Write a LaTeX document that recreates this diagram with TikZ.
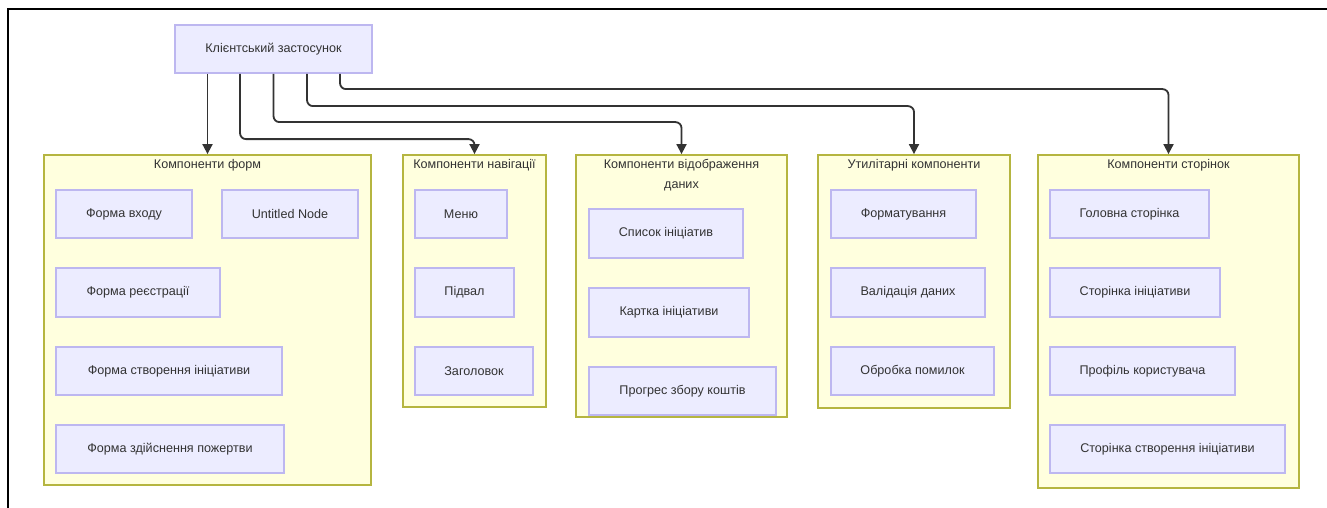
\documentclass[tikz,border=0pt]{standalone}
\usepackage{fontspec}
\setmainfont{Liberation Sans}
\usetikzlibrary{arrows.meta}
\definecolor{nodefill}{HTML}{ECECFF}
\definecolor{nodestroke}{HTML}{BDB7F0}
\definecolor{clfill}{HTML}{FFFFDE}
\definecolor{clstroke}{HTML}{B5B540}
\definecolor{txt}{HTML}{333333}
\tikzset{
  box/.style={draw=nodestroke, fill=nodefill, line width=1.6pt, inner sep=0pt,
    font=\fontsize{12.6}{14}\selectfont, text=txt},
  cluster/.style={draw=clstroke, fill=clfill, line width=1.8pt, inner sep=0pt},
  cltitle/.style={anchor=north, font=\fontsize{12.6}{20}\selectfont, text=txt, align=center, inner sep=0pt},
  conn/.style={draw=txt, line width=1.8pt, rounded corners=6pt, -{Triangle[length=10pt,width=10pt]}},
}
\begin{document}
\begin{tikzpicture}[x=1pt,y=-1pt]
\useasboundingbox (0,0) rectangle (1327,508);
\fill[white] (0,0) rectangle (1327,508);
% outer frame (top and left edges visible)
\draw[black, line width=2.5pt] (8,508) -- (8,9) -- (1327,9);

% clusters
\node[cluster, minimum width=327pt, minimum height=330pt] (cF) at (207.5,320) {};
\node[cltitle] (tF) at ([yshift=-5pt]cF.north) {Компоненти форм};
\node[cluster, minimum width=143pt, minimum height=252pt] (cN) at (474.5,281) {};
\node[cltitle] (tN) at ([yshift=-5pt]cN.north) {Компоненти навігації};
\node[cluster, minimum width=211pt, minimum height=262pt] (cD) at (681.5,286) {};
\node[cltitle] (tD) at ([yshift=-5pt]cD.north) {Компоненти відображення\\даних};
\node[cluster, minimum width=192pt, minimum height=253pt] (cU) at (914,281.5) {};
\node[cltitle] (tU) at ([yshift=-5pt]cU.north) {Утилітарні компоненти};
\node[cluster, minimum width=261pt, minimum height=333pt] (cP) at (1168.5,321.5) {};
\node[cltitle] (tP) at ([yshift=-5pt]cP.north) {Компоненти сторінок};

% top node
\node[box, minimum width=197pt, minimum height=48pt] (app) at (273.5,49) {Клієнтський застосунок};

% forms
\node[box, minimum width=136pt, minimum height=48pt] (fi) at (124,214) {Форма входу};
\node[box, minimum width=136pt, minimum height=48pt] (un) at (290,214) {Untitled Node};
\node[box, minimum width=164pt, minimum height=49pt] (fr) at (138,292.5) {Форма реєстрації};
\node[box, minimum width=226pt, minimum height=48pt] (fc) at (169,371) {Форма створення ініціативи};
\node[box, minimum width=228pt, minimum height=48pt] (fd) at (170,449) {Форма здійснення пожертви};

% navigation
\node[box, minimum width=92pt, minimum height=48pt] (menu) at (461,214) {Меню};
\node[box, minimum width=99pt, minimum height=49pt] (pidval) at (464.5,292.5) {Підвал};
\node[box, minimum width=118pt, minimum height=48pt] (zag) at (474,371) {Заголовок};

% data display
\node[box, minimum width=154pt, minimum height=49pt] (spys) at (666,233.5) {Список ініціатив};
\node[box, minimum width=160pt, minimum height=49pt] (kart) at (669,312.5) {Картка ініціативи};
\node[box, minimum width=187pt, minimum height=48pt] (prog) at (682.5,391) {Прогрес збору коштів};

% utility
\node[box, minimum width=145pt, minimum height=48pt] (fmt) at (903.5,214) {Форматування};
\node[box, minimum width=154pt, minimum height=49pt] (val) at (908,292.5) {Валідація даних};
\node[box, minimum width=163pt, minimum height=48pt] (obr) at (912.5,371) {Обробка помилок};

% pages
\node[box, minimum width=159pt, minimum height=48pt] (hol) at (1129.5,214) {Головна сторінка};
\node[box, minimum width=170pt, minimum height=49pt] (sti) at (1135,292.5) {Сторінка ініціативи};
\node[box, minimum width=185pt, minimum height=48pt] (prof) at (1142.5,371) {Профіль користувача};
\node[box, minimum width=235pt, minimum height=48pt] (sts) at (1167.5,449) {Сторінка створення ініціативи};

% connectors
\draw[conn] (app.south -| cF.north) -- (cF.north);
\draw[conn] ([xshift=-33.5pt]app.south) |- ([yshift=15pt]cN.north) -- (cN.north);
\draw[conn] (app.south) |- ([yshift=32pt]cD.north) -- (cD.north);
\draw[conn] ([xshift=33.5pt]app.south) |- ([yshift=48pt]cU.north) -- (cU.north);
\draw[conn] ([xshift=66.5pt]app.south) |- ([yshift=65pt]cP.north) -- (cP.north);
\end{tikzpicture}
\end{document}
